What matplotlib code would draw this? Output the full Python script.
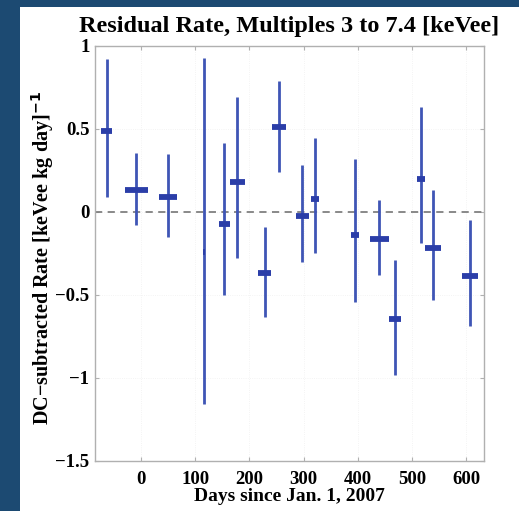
import matplotlib
matplotlib.use("Agg")
import matplotlib.pyplot as plt
from matplotlib.patches import Rectangle
import numpy as np

# data
days = [-63, -9, 50, 117, 154, 178, 228, 255, 298, 321, 395, 440, 469, 517, 539, 607]
rate = [0.49, 0.13, 0.09, -0.24, -0.07, 0.18, -0.37, 0.51, -0.025, 0.08, -0.14, -0.165, -0.645, 0.20, -0.215, -0.385]
err_top = [0.92, 0.355, 0.35, 0.93, 0.415, 0.69, -0.09, 0.79, 0.28, 0.445, 0.32, 0.07, -0.29, 0.635, 0.13, -0.05]
err_bot = [0.09, -0.08, -0.15, -1.16, -0.50, -0.28, -0.63, 0.24, -0.30, -0.25, -0.54, -0.38, -0.98, -0.19, -0.53, -0.69]
half_width = [10, 21, 17, 2, 11, 14, 12, 13, 12, 8, 7, 18, 11, 8, 14, 15]

xticks = [0, 100, 200, 300, 400, 500, 600]
yticks = [-1.5, -1, -0.5, 0, 0.5, 1]
ytick_labels = ["\u22121.5", "\u22121", "\u22120.5", "0", "0.5", "1"]

plt.rcParams['font.family'] = ['Liberation Serif', 'DejaVu Serif']
plt.rcParams['font.weight'] = 'bold'

fig = plt.figure(figsize=(5.19, 5.11), dpi=100, facecolor='#1c4a72')
fig.add_artist(Rectangle((20 / 519, 0), 1, 1 - 7 / 511, transform=fig.transFigure,
                         facecolor='white', edgecolor='none', zorder=0))

ax = fig.add_axes([0.183, 0.098, 0.7495, 0.812])
days_a = np.array(days)
hw = np.array(half_width)
ax.vlines(days_a, err_bot, err_top, color='#3f55b5', linewidth=2.0, zorder=3)
ax.hlines(rate, days_a - hw, days_a + hw, color='#2b3ea8', linewidth=4.2, zorder=4)
ax.axhline(0, color='#808080', linestyle=(0, (4, 3)), linewidth=1.3, zorder=2)

ax.set_xlim(-85, 633)
ax.set_ylim(-1.5, 1)
ax.set_xticks(xticks)
ax.set_yticks(yticks)
ax.set_yticklabels(ytick_labels)
ax.grid(True, color='#f0f0f0', linewidth=0.6, linestyle=':')
ax.tick_params(direction='in', top=True, right=True, length=3, color='#b0b0b0',
               labelsize=13.5, pad=4)
ax.tick_params(axis='x', pad=7)
for lbl in ax.get_xticklabels() + ax.get_yticklabels():
    lbl.set_fontweight('bold')
for s in ax.spines.values():
    s.set_color('#b0b0b0')
    s.set_linewidth(1.0)

ax.set_title('Residual Rate, Multiples 3 to 7.4 [keVee]', fontsize=17.5, fontweight='bold', pad=10)
ax.set_xlabel('Days since Jan. 1, 2007', fontsize=14, fontweight='bold', labelpad=0)
ax.set_ylabel('DC\u2212subtracted Rate [keVee kg day]$^{\\mathbf{-1}}$', fontsize=14.5,
              fontweight='bold')
ax.yaxis.set_label_coords(-0.1, 0.49)

fig.savefig('out.png', dpi=100, facecolor=fig.get_facecolor())
